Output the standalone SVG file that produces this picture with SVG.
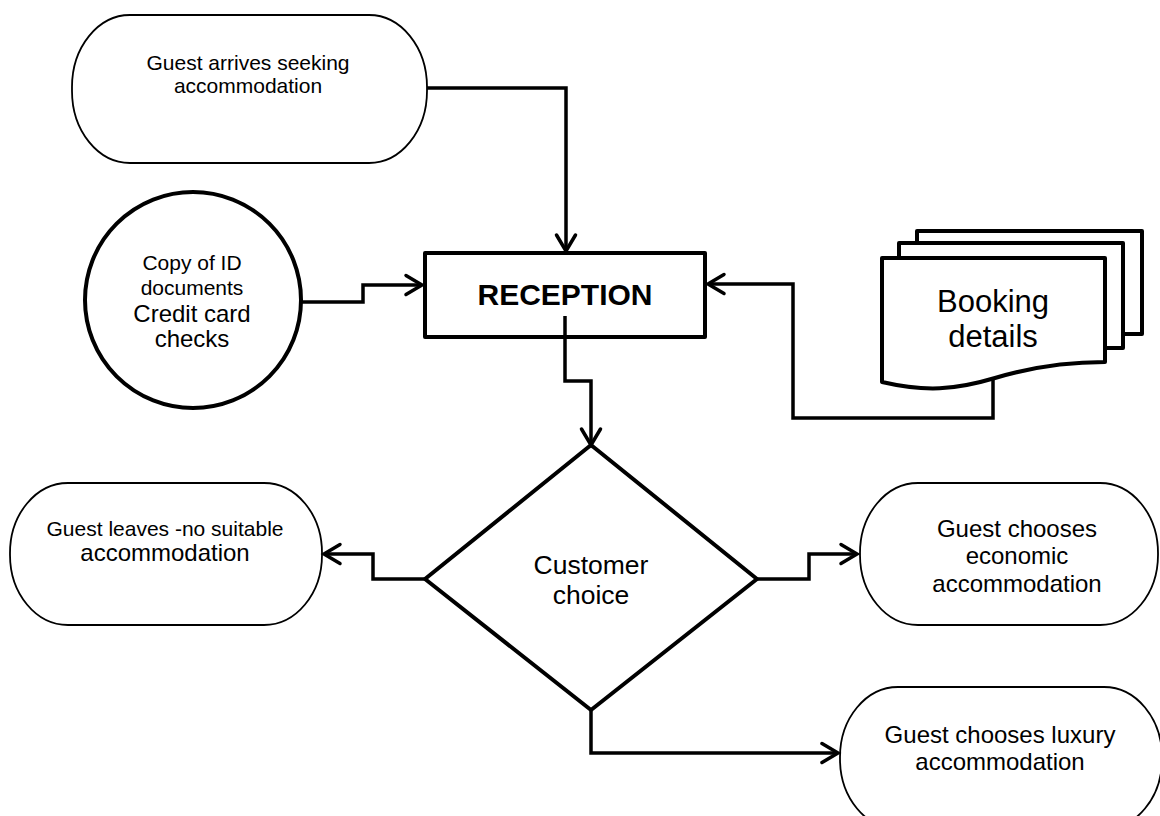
<svg xmlns="http://www.w3.org/2000/svg" width="1160" height="816" viewBox="0 0 1160 816">
<defs>
<style>
text{font-family:"Liberation Sans",Arial,sans-serif;fill:#000;text-anchor:middle}
.thin{fill:#fff;stroke:#000;stroke-width:1.8}
.thick{fill:#fff;stroke:#000;stroke-width:4;stroke-linejoin:round}
.conn{fill:none;stroke:#000;stroke-width:3.5;stroke-linejoin:miter}
</style>
<marker id="ah" markerUnits="userSpaceOnUse" viewBox="-20 -12 22 24" refX="0" refY="0" markerWidth="22" markerHeight="24" orient="auto" overflow="visible">
<path d="M-16,-9.5 L0,0 L-16,9.5" fill="none" stroke="#000" stroke-width="3.5" stroke-linecap="round"/>
</marker>
</defs>
<rect width="1160" height="816" fill="#fff"/>

<g id="guest-arrives">
<rect class="thin" x="72" y="15" width="355" height="148" rx="58" ry="72"/>
<text x="248" y="70" font-size="21">Guest arrives seeking</text>
<text x="248" y="93" font-size="21">accommodation</text>
</g>

<g id="id-checks">
<circle class="thick" cx="193" cy="300" r="108"/>
<text x="192" y="270" font-size="21">Copy of ID</text>
<text x="192" y="295" font-size="21">documents</text>
<text x="192" y="322" font-size="24">Credit card</text>
<text x="192" y="347" font-size="24">checks</text>
</g>

<g id="reception">
<rect class="thick" x="425" y="253" width="280" height="84"/>
<text x="565" y="305" font-size="30" font-weight="bold">RECEPTION</text>
</g>

<g id="booking-details">
<rect class="thick" x="917" y="231" width="225" height="103"/>
<rect class="thick" x="899" y="243" width="224" height="105"/>
<path class="thick" d="M882,258 H1105 V362 C1070,362 1035,366 995,378 C955,390 925,392 882,382 Z"/>
<text x="993" y="312" font-size="31">Booking</text>
<text x="993" y="347" font-size="31">details</text>
</g>

<g id="customer-choice">
<polygon class="thick" points="591,445 757,579 591,710 425,579"/>
<text x="591" y="574" font-size="26.5">Customer</text>
<text x="591" y="604" font-size="26.5">choice</text>
</g>

<g id="guest-leaves">
<rect class="thin" x="10" y="483" width="312" height="142" rx="58" ry="70"/>
<text x="165" y="536" font-size="21">Guest leaves -no suitable</text>
<text x="165" y="561" font-size="24">accommodation</text>
</g>

<g id="guest-economic">
<rect class="thin" x="860" y="483" width="298" height="142" rx="58" ry="70"/>
<text x="1017" y="537" font-size="24">Guest chooses</text>
<text x="1017" y="564" font-size="24">economic</text>
<text x="1017" y="592" font-size="24">accommodation</text>
</g>

<g id="guest-luxury">
<rect class="thin" x="840" y="687" width="322" height="142" rx="58" ry="70"/>
<text x="1000" y="743" font-size="24">Guest chooses luxury</text>
<text x="1000" y="770" font-size="24">accommodation</text>
</g>

<g id="connectors">
<path class="conn" d="M427,88 H566 V251" marker-end="url(#ah)"/>
<path class="conn" d="M302,302 H363 V285 H422" marker-end="url(#ah)"/>
<path class="conn" d="M565,316 V381 H591 V445" marker-end="url(#ah)"/>
<path class="conn" d="M993,380 V418 H793 V284 H708" marker-end="url(#ah)"/>
<path class="conn" d="M425,579 H373 V554 H324" marker-end="url(#ah)"/>
<path class="conn" d="M757,579 H809 V554 H857" marker-end="url(#ah)"/>
<path class="conn" d="M591,710 V753 H838" marker-end="url(#ah)"/>
</g>
</svg>
